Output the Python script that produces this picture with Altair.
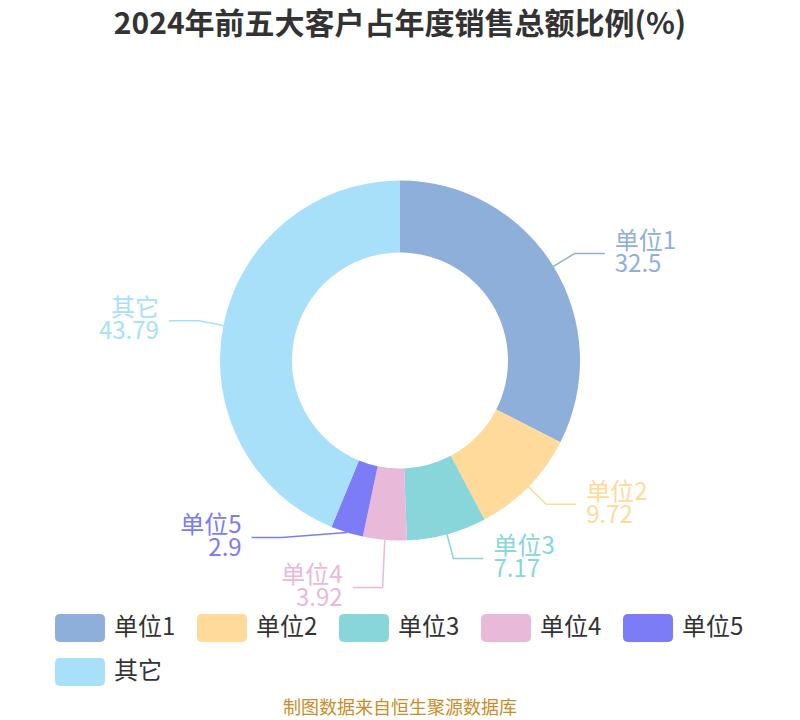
import math
import altair as alt
import pandas as pd

names = ["单位1", "单位2", "单位3", "单位4", "单位5", "其它"]
shares = [32.5, 9.72, 7.17, 3.92, 2.9, 43.79]
colors = ["#8fafdb", "#ffda9b", "#88d6d9", "#e8b9d8", "#7b7cf6", "#a8e0fa"]

title_text = "2024年前五大客户占年度销售总额比例(%)"
source_text = "制图数据来自恒生聚源数据库"

FONT = "Noto Sans CJK SC"
OFF = 8  # page margin, layout numbers below are in screen pixels
CX, CY = 400 - OFF, 360.5 - OFF
R_OUT, R_IN = 180, 108
LEN1, LEN2, GAP = 25, 30, 10
LABEL_H = 50

pie = pd.DataFrame({"name": names, "share": shares, "idx": range(len(names))})

# leader line / label layout, from the slice mid angles
total = sum(shares)
rows = []
acc = 0
for n, v, col in zip(names, shares, colors):
    a = 2 * math.pi * (acc + v / 2) / total
    acc += v
    s, c = math.sin(a), math.cos(a)
    rows.append(dict(name=n, share=v, color=col, side="r" if s >= 0 else "l",
                     x0=CX + R_OUT * s, y0=CY - R_OUT * c,
                     x1=CX + (R_OUT + LEN1) * s, y1=CY - (R_OUT + LEN1) * c,
                     moved=False))

for side in ("r", "l"):
    grp = sorted([r for r in rows if r["side"] == side], key=lambda r: r["y1"])
    for _ in range(10):
        for p, q in zip(grp, grp[1:]):
            if q["y1"] - p["y1"] < LABEL_H:
                m = (p["y1"] + q["y1"]) / 2
                p["y1"], q["y1"] = m - LABEL_H / 2 + 2, m + LABEL_H / 2 + 2
                p["moved"] = q["moved"] = True

rr = R_OUT + LEN1
for r in rows:
    sgn = 1 if r["side"] == "r" else -1
    dy = r["y1"] - CY
    if r["moved"] and abs(dy) < rr:
        r["x1"] = CX + sgn * math.sqrt((rr + 8) ** 2 - dy ** 2)
    r["x2"] = r["x1"] + sgn * LEN2
    r["tx"] = r["x2"] + sgn * GAP
    r["label"] = f"{r['name']}\n{r['share']}"

lab = pd.DataFrame(rows)
lines = pd.concat([
    lab.assign(x=lab["x0"], y=lab["y0"], seq=0),
    lab.assign(x=lab["x1"], y=lab["y1"], seq=1),
    lab.assign(x=lab["x2"], y=lab["y1"], seq=2),
])[["name", "color", "x", "y", "seq"]]

leg_symbol = ("M-0.9,-0.636 L0.9,-0.636 Q1.136,-0.636 1.136,-0.4 L1.136,0.4 "
              "Q1.136,0.636 0.9,0.636 L-0.9,0.636 Q-1.136,0.636 -1.136,0.4 "
              "L-1.136,-0.4 Q-1.136,-0.636 -0.9,-0.636 Z")

donut = alt.Chart(pie).mark_arc(innerRadius=R_IN, outerRadius=R_OUT).encode(
    theta=alt.Theta("share:Q", stack=True),
    order=alt.Order("idx:Q"),
    color=alt.Color(
        "name:N",
        scale=alt.Scale(domain=names, range=colors),
        legend=alt.Legend(
            title=None, orient="none", legendX=50, legendY=598,
            direction="horizontal", columns=5, padding=0,
            symbolType=leg_symbol, symbolSize=1936, symbolStrokeWidth=0,
            symbolOpacity=1, labelFont=FONT, labelFontSize=24,
            labelColor="#333333", labelOffset=12, columnPadding=21, rowPadding=8,
        ),
    ),
    x=alt.value(CX),
    y=alt.value(CY),
)

leaders = alt.Chart(lines).mark_line(strokeWidth=1.5).encode(
    x=alt.X("x:Q", scale=None, axis=None),
    y=alt.Y("y:Q", scale=None, axis=None),
    detail="name:N",
    order="seq:Q",
    color=alt.Color("color:N", scale=None),
)

def label_layer(side, align):
    return alt.Chart(lab[lab["side"] == side]).mark_text(
        align=align, baseline="middle", lineBreak="\n", lineHeight=23, dy=-11.5,
        font=FONT, fontSize=24,
    ).encode(
        x=alt.X("tx:Q", scale=None, axis=None),
        y=alt.Y("y1:Q", scale=None, axis=None),
        text="label:N",
        color=alt.Color("color:N", scale=None),
    )

title = alt.Chart(pd.DataFrame({"t": [title_text]})).mark_text(
    font=FONT, fontSize=30, fontWeight="bold", color="#333333", baseline="middle"
).encode(x=alt.value(400 - OFF), y=alt.value(24.5 - OFF), text="t:N")

source = alt.Chart(pd.DataFrame({"t": [source_text]})).mark_text(
    font=FONT, fontSize=18, color="#c88d28", baseline="middle"
).encode(x=alt.value(400 - OFF), y=alt.value(709 - OFF), text="t:N")

chart = alt.layer(
    donut, leaders, label_layer("r", "left"), label_layer("l", "right"), title, source
).properties(
    width=784, height=712,
    autosize=alt.AutoSizeParams(type="none"),
    padding=0,
).configure_view(stroke=None)

chart.save("out.html", embed_options={"renderer": "svg", "actions": False})
